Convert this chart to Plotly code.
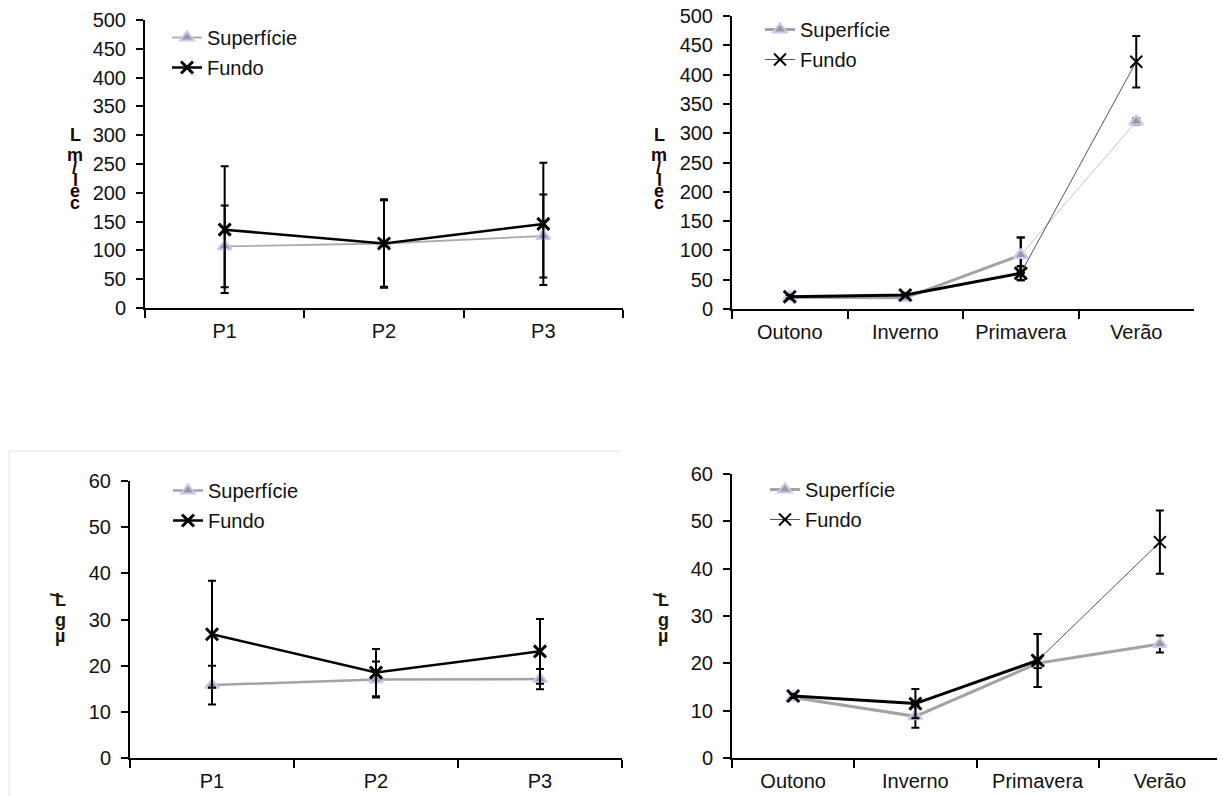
import plotly.graph_objects as go

W, H = 1225, 796
OFF = 8  # page body margin of the browser

# ---------------- data ----------------
pontos = ["P1", "P2", "P3"]
estacoes = ["Outono", "Inverno", "Primavera", "Verão"]
series_names = ["Superfície", "Fundo"]

# cel/mL by sampling point
cel_p_sup = [107, 112, 125]
cel_p_sup_err = [71, 75, 72]
cel_p_fun = [136, 112, 146]
cel_p_fun_err = [110, 77, 106]

# cel/mL by season
cel_e_sup = [20, 19, 92, 320]
cel_e_sup_err = [3, 2, 30, 5]
cel_e_fun = [21, 24, 61, 422]
cel_e_fun_err = [3, 3, 12, 44]

# µg/L by sampling point
ug_p_sup = [15.8, 17.0, 17.1]
ug_p_sup_err = [4.2, 3.9, 2.2]
ug_p_fun = [26.8, 18.5, 23.1]
ug_p_fun_err = [11.6, 5.1, 7.0]

# µg/L by season
ug_e_sup = [12.8, 8.8, 20.0, 24.1]
ug_e_sup_err = [0.4, 2.4, 1.0, 1.8]
ug_e_fun = [13.1, 11.5, 20.6, 45.6]
ug_e_fun_err = [0.4, 3.1, 5.6, 6.7]

y_ticks_cel = [0, 50, 100, 150, 200, 250, 300, 350, 400, 450, 500]
y_ticks_ug = [0, 10, 20, 30, 40, 50, 60]

# ---------------- styles ----------------
FONT = "Arial, Liberation Sans, sans-serif"
FS = 20
TXT = "#111111"
SUP_LINE = "#a3a3a3"
SUP_FILL = "#9a9a9a"
SUP_EDGE = "#c8c8f4"


def px_x(p):
    return max(0.0, (p - OFF) / W)


def px_y(p):
    return min(1.0, 1 - (p - OFF) / H)


fig = go.Figure()


def sup_marker():
    return dict(symbol="triangle-up", size=12, color=SUP_FILL,
                line=dict(color=SUP_EDGE, width=2))


def fun_marker(w=3):
    return dict(symbol="x-thin", size=12, color="black",
                line=dict(color="black", width=w))


def err(arr):
    return dict(type="data", array=arr, visible=True, color="black",
                thickness=2, width=4)


def add_simple(xa, ya, leg, cats, sup, sup_e, fun, fun_e, sup_w=2, fun_w=2.5, sup_color=SUP_LINE):
    fig.add_trace(go.Scatter(x=cats, y=sup, name=series_names[0], mode="lines+markers",
                             line=dict(color=sup_color, width=sup_w), marker=sup_marker(),
                             error_y=err(sup_e), xaxis=xa, yaxis=ya, legend=leg,
                             legendgroup=leg + "s"))
    fig.add_trace(go.Scatter(x=cats, y=fun, name=series_names[1], mode="lines+markers",
                             line=dict(color="black", width=fun_w), marker=fun_marker(),
                             error_y=err(fun_e), xaxis=xa, yaxis=ya, legend=leg,
                             legendgroup=leg + "f"))


def add_split(xa, ya, leg, cats, sup, sup_e, fun, fun_e, sup_thin_color, sup_thin_w):
    fig.add_trace(go.Scatter(x=cats[:3], y=sup[:3], name=series_names[0], mode="lines+markers",
                             line=dict(color=SUP_LINE, width=3), marker=sup_marker(),
                             error_y=err(sup_e[:3]), xaxis=xa, yaxis=ya, legend=leg,
                             legendgroup=leg + "s"))
    fig.add_trace(go.Scatter(x=cats[2:], y=sup[2:], name=series_names[0], mode="lines+markers",
                             line=dict(color=sup_thin_color, width=sup_thin_w), marker=sup_marker(),
                             error_y=err(sup_e[2:]), xaxis=xa, yaxis=ya, legend=leg,
                             legendgroup=leg + "s", showlegend=False))
    fig.add_trace(go.Scatter(x=cats[:3], y=fun[:3], name=series_names[1], mode="lines+markers",
                             line=dict(color="black", width=3), marker=fun_marker(3),
                             error_y=err(fun_e[:3]), xaxis=xa, yaxis=ya, legend=leg,
                             legendgroup=leg + "f", showlegend=False))
    fig.add_trace(go.Scatter(x=cats[2:], y=fun[2:], name=series_names[1], mode="lines+markers",
                             line=dict(color="#555555", width=1), marker=fun_marker(2),
                             error_y=err(fun_e[2:]), xaxis=xa, yaxis=ya, legend=leg,
                             legendgroup=leg + "f", showlegend=True))


add_simple("x", "y", "legend", pontos, cel_p_sup, cel_p_sup_err, cel_p_fun, cel_p_fun_err,
           sup_w=1.8, fun_w=2.5, sup_color="#ababab")
add_split("x2", "y2", "legend2", estacoes, cel_e_sup, cel_e_sup_err, cel_e_fun, cel_e_fun_err,
          "#c4c4c4", 1)
add_simple("x3", "y3", "legend3", pontos, ug_p_sup, ug_p_sup_err, ug_p_fun, ug_p_fun_err,
           sup_w=2.5, fun_w=2.5)
add_split("x4", "y4", "legend4", estacoes, ug_e_sup, ug_e_sup_err, ug_e_fun, ug_e_fun_err,
          SUP_LINE, 3)

# ---------------- axes ----------------
boxes = {
    "1": (145, 623, 20, 308),
    "2": (732, 1194, 16, 309),
    "3": (130, 622, 481, 758),
    "4": (732, 1221, 474, 758),
}
cats_for = {"1": pontos, "2": estacoes, "3": pontos, "4": estacoes}
yt_for = {"1": y_ticks_cel, "2": y_ticks_cel, "3": y_ticks_ug, "4": y_ticks_ug}

layout = {}
for k, (x0, x1, yt, yb) in boxes.items():
    xn = "xaxis" if k == "1" else "xaxis" + k
    yn = "yaxis" if k == "1" else "yaxis" + k
    anchor_x = "y" if k == "1" else "y" + k
    anchor_y = "x" if k == "1" else "x" + k
    n = len(cats_for[k])
    yticks = yt_for[k]
    layout[xn] = dict(domain=[px_x(x0), px_x(x1)], anchor=anchor_x, type="category",
                      range=[-0.5, n - 0.5], showline=True, linecolor="black", linewidth=2,
                      ticks="outside", tickson="boundaries", ticklen=8, tickwidth=2,
                      tickcolor="black", showgrid=False, zeroline=False, automargin=False,
                      tickfont=dict(family=FONT, size=FS, color=TXT),
                      ticklabeloverflow="allow", ticklabelstandoff=4, fixedrange=True)
    layout[yn] = dict(domain=[px_y(yb), px_y(yt)], anchor=anchor_y,
                      range=[yticks[0], yticks[-1]], tickmode="array", tickvals=yticks,
                      showline=True, linecolor="black", linewidth=2, ticks="outside",
                      ticklen=7, tickwidth=2, tickcolor="black", showgrid=False,
                      zeroline=False, automargin=False,
                      tickfont=dict(family=FONT, size=FS, color=TXT),
                      ticklabeloverflow="allow", ticklabelstandoff=6, fixedrange=True)

legend_pos = {
    "legend": (167, 18),
    "legend2": (760, 10),
    "legend3": (168, 471),
    "legend4": (765, 470),
}
for ln, (lx, ly) in legend_pos.items():
    layout[ln] = dict(x=px_x(lx), y=px_y(ly), xanchor="left", yanchor="top",
                      bgcolor="rgba(0,0,0,0)", borderwidth=0, tracegroupgap=1,
                      font=dict(family=FONT, size=FS, color=TXT))

# ---------------- vertical (stacked) y titles ----------------
annotations = []
cel_chars = [("L", 0, 135), ("m", 0, 155), ("/", -1, 168), ("l", 0, 180), ("e", 0, 191), ("c", 0, 203)]
ug_chars = [("L", 0, 600), ("/", -3, 596), ("g", 0, 620), ("µ", 0, 636)]
for cx, chars in ((75, cel_chars), (659, cel_chars)):
    for ch, dx, cy in chars:
        annotations.append(dict(text="<b>%s</b>" % ch, x=px_x(cx + dx), y=px_y(cy),
                                xref="paper", yref="paper", showarrow=False,
                                xanchor="center", yanchor="middle",
                                font=dict(family=FONT, size=18, color="#1a0505")))
for cx, chars in ((60, ug_chars), (663, ug_chars)):
    for ch, dx, cy in chars:
        annotations.append(dict(text="<b>%s</b>" % ch, x=px_x(cx + dx), y=px_y(cy),
                                xref="paper", yref="paper", showarrow=False,
                                xanchor="center", yanchor="middle",
                                textangle=-90 if ch == "/" else 0,
                                font=dict(family=FONT, size=18, color="#1a1a05")))

shapes = [
    dict(type="line", xref="paper", yref="paper", x0=px_x(9), x1=px_x(620), y0=px_y(451), y1=px_y(451),
         line=dict(color="#e4e4e4", width=1)),
    dict(type="line", xref="paper", yref="paper", x0=px_x(9), x1=px_x(9), y0=px_y(451), y1=0,
         line=dict(color="#e4e4e4", width=1)),
]

fig.update_layout(width=W, height=H, autosize=False, margin=dict(l=0, r=0, t=0, b=0),
                  paper_bgcolor="white", plot_bgcolor="white", annotations=annotations,
                  shapes=shapes, **layout)

fig.write_html("out.html")
